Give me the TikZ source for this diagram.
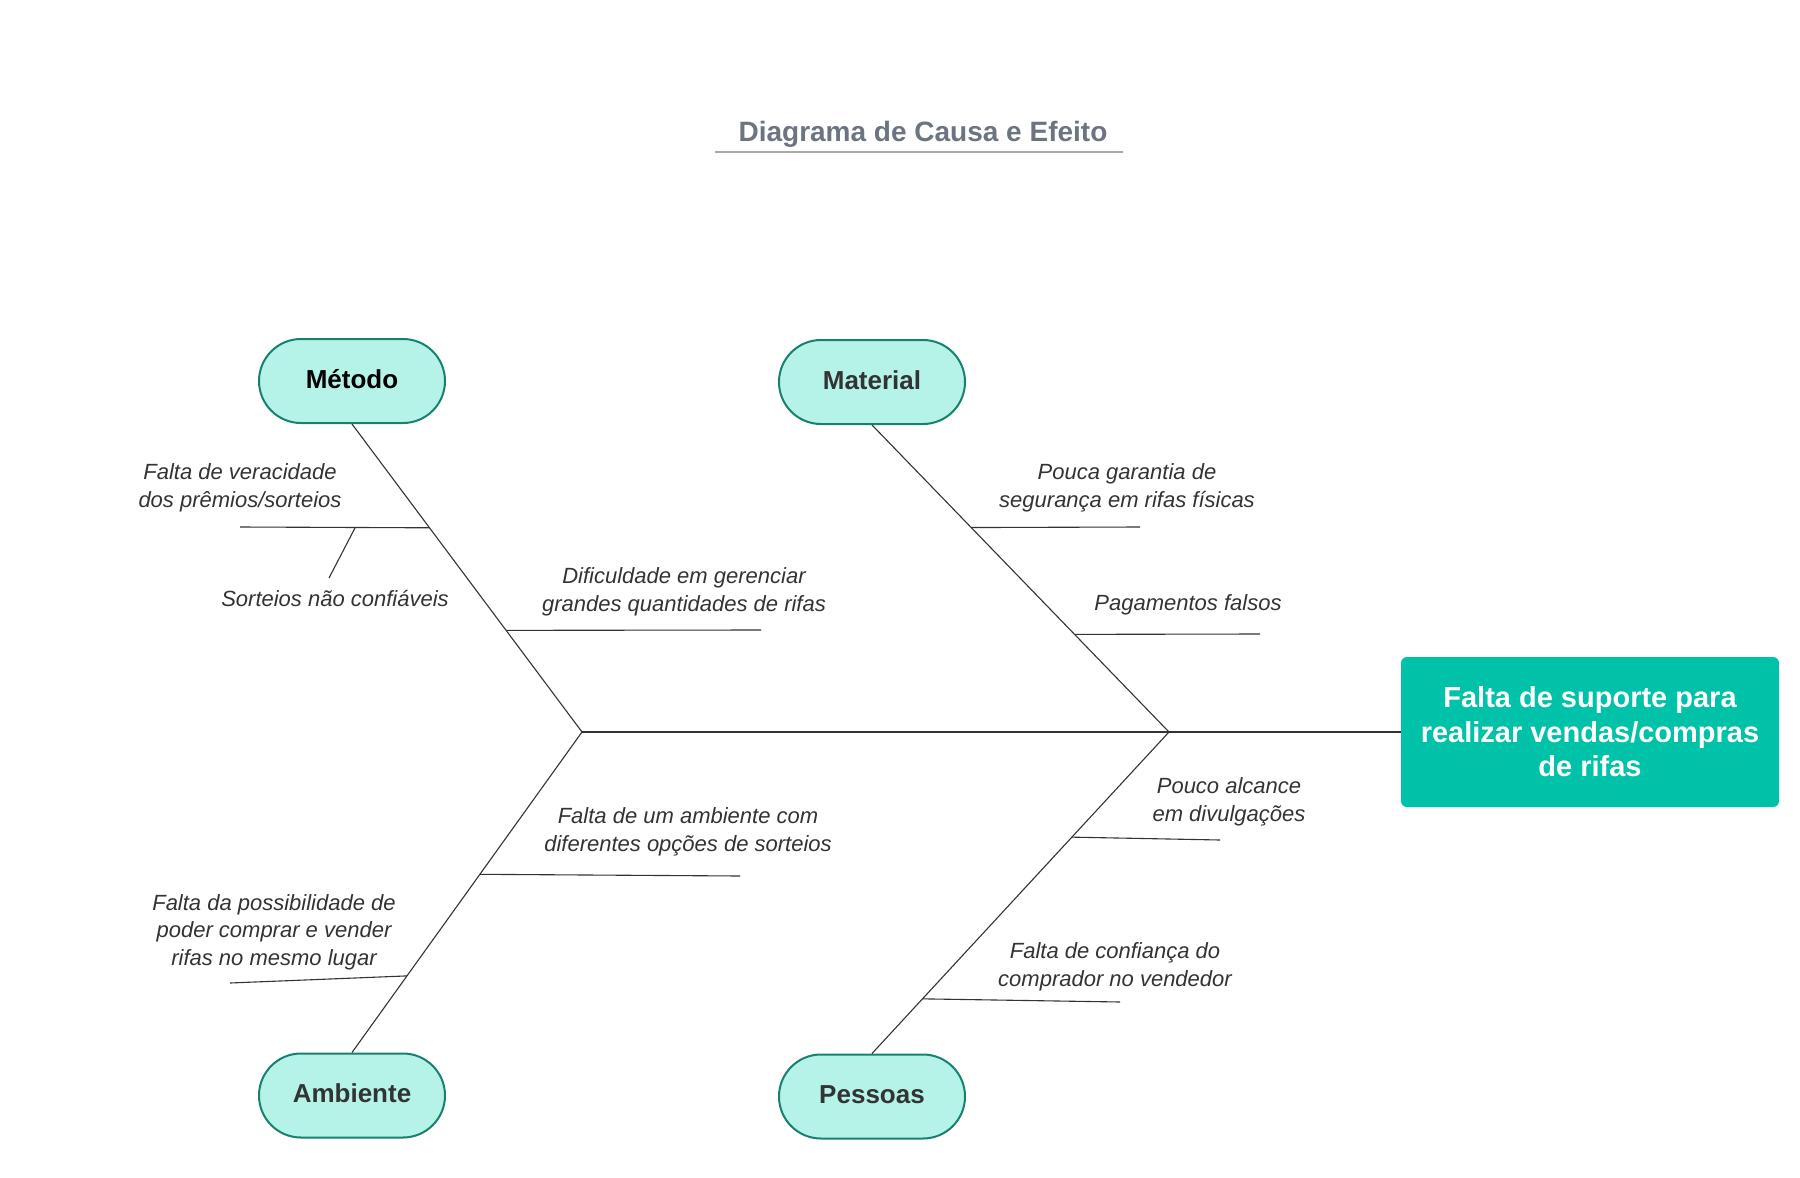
\documentclass[tikz,border=0pt]{standalone}
\usepackage{fontspec}
\setmainfont{Liberation Sans}
\usetikzlibrary{calc}
\definecolor{boxfill}{HTML}{B5F3E9}
\definecolor{boxline}{HTML}{17806E}
\definecolor{effectfill}{HTML}{00C2A8}
\definecolor{titlegray}{HTML}{6B7480}
\definecolor{titleline}{HTML}{AAAAAA}
\definecolor{textgray}{HTML}{333333}
\tikzset{bone/.style={draw=textgray,line width=1.1pt},
 causebox/.style={draw=boxline,line width=2pt,fill=boxfill,rounded corners=42pt,
  minimum width=186pt,minimum height=84pt,inner sep=0pt,text height=19pt,text depth=4.6pt,
  font=\fontsize{26}{30}\selectfont\bfseries},
 effectbox/.style={fill=effectfill,rounded corners=6pt,minimum width=378pt,
  minimum height=150pt,align=center,text=white,
  font=\fontsize{29}{34.5}\selectfont\bfseries},
 causetxt/.style={align=center,text=textgray,font=\fontsize{22}{27.5}\selectfont\itshape}}

\begin{document}
\begin{tikzpicture}[x=1pt,y=-1pt]
\useasboundingbox (0,0) rectangle (1800,1178);
% title
\node[anchor=base,text=titlegray,font=\fontsize{28}{32}\selectfont\bfseries] (title) at (923,141) {Diagrama de Causa e Efeito};
\draw[titleline,line width=2pt] (715,151.5) -- (1123,151.5);
% categories and effect
\foreach \x/\y/\nm/\col/\txt in {352/381/met/black/Método,872/382/mat/textgray/Material,
 352/1095.5/amb/textgray/Ambiente,872/1096.5/pes/textgray/Pessoas}{
 \node[causebox,text=\col] (\nm) at (\x,\y) {\txt};
}
\node[effectbox] (efeito) at (1590,732) {Falta de suporte para\\realizar vendas/compras\\de rifas\rule[-1pt]{0pt}{1pt}};
% spine and main bones
\coordinate (jl) at (582,732);
\coordinate (jr) at (1169,732);
\draw[bone] (jl) -- (efeito.west);
\draw[bone] (met.south) -- (jl) -- (amb.north);
\draw[bone] (mat.south) -- (jr) -- (pes.north);
% branches
\coordinate (m1) at ($(met.south)!0.337!(jl)$);
\coordinate (m2) at ($(met.south)!0.67!(jl)$);
\coordinate (t1) at ($(mat.south)!0.334!(jr)$);
\coordinate (t2) at ($(mat.south)!0.682!(jr)$);
\coordinate (a1) at ($(jl)!0.444!(amb.north)$);
\coordinate (a2) at ($(jl)!0.761!(amb.north)$);
\coordinate (p1) at ($(jr)!0.327!(pes.north)$);
\coordinate (p2) at ($(jr)!0.83!(pes.north)$);
\coordinate (m1e) at (240,527);
\coordinate (m2e) at (761,630);
\coordinate (t1e) at (1140,527);
\coordinate (t2e) at (1260,634);
\coordinate (a1e) at (740,876);
\coordinate (a2e) at (230,983);
\coordinate (p1e) at (1220,840);
\coordinate (p2e) at (1120,1002);
\foreach \b in {m1,m2,t1,t2,a1,a2,p1,p2}
 \draw[bone] (\b) -- (\b e);
\coordinate (m1s) at ($(m1e)!0.608!(m1)$);
\coordinate (m1t) at (329,578);
\draw[bone] (m1s) -- (m1t);
% texts
\node[causetxt] (lm1) at (240,488) {Falta de veracidade\\dos prêmios/sorteios};
\node[causetxt] (lm1s) at (335,599) {Sorteios não confiáveis};
\node[causetxt] (lm2) at (684,592) {Dificuldade em gerenciar\\grandes quantidades de rifas};
\node[causetxt] (lt1) at (1127,488) {Pouca garantia de\\segurança em rifas físicas};
\node[causetxt] (lt2) at (1188,605) {Pagamentos falsos};
\node[causetxt] (la1) at (688,832) {Falta de um ambiente com\\diferentes opções de sorteios};
\node[causetxt] (la2) at (274,932) {Falta da possibilidade de\\poder comprar e vender\\rifas no mesmo lugar};
\node[causetxt] (lp1) at (1229,802) {Pouco alcance\\em divulgações};
\node[causetxt] (lp2) at (1115,967) {Falta de confiança do\\comprador no vendedor};
\end{tikzpicture}
\end{document}
